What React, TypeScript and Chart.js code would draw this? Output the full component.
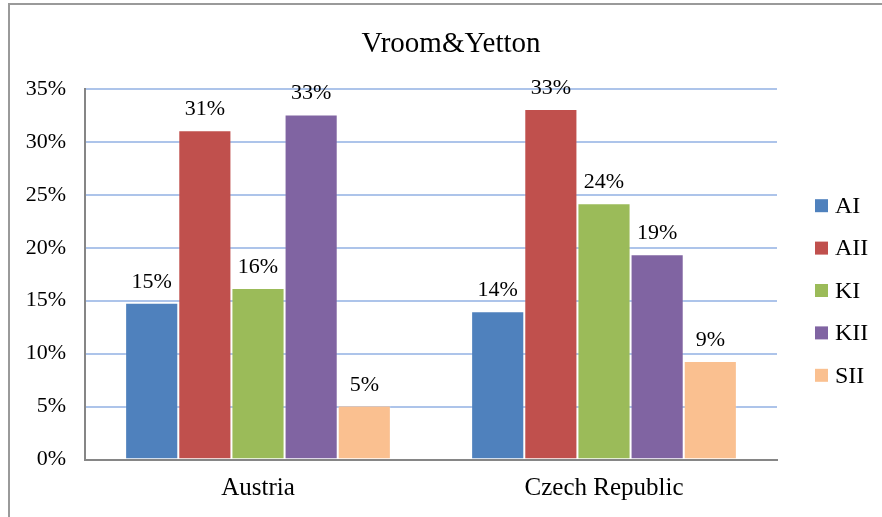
import React, { useEffect, useRef } from 'react';
import { Chart, registerables } from 'chart.js';

Chart.register(...registerables);

const chartTitle = 'Vroom&Yetton';
const categories = ['Austria', 'Czech Republic'];
const seriesNames = ['AI', 'AII', 'KI', 'KII', 'SII'];
const seriesColors = ['#4f81bd', '#c0504d', '#9bbb59', '#8064a2', '#fac090'];
const valuesAI = [14.8, 14.0];
const valuesAII = [31.1, 33.1];
const valuesKI = [16.2, 24.2];
const valuesKII = [32.6, 19.4];
const valuesSII = [5.1, 9.3];
const yTicks = [0, 5, 10, 15, 20, 25, 30, 35];

const seriesValues = [valuesAI, valuesAII, valuesKI, valuesKII, valuesSII];
const FONT = "'Liberation Serif', 'Times New Roman', serif";

const titlePlugin = {
  id: 'customTitle',
  afterDraw(chart: any) {
    const ctx = chart.ctx;
    ctx.save();
    ctx.font = `29px ${FONT}`;
    ctx.fillStyle = '#000';
    ctx.textAlign = 'center';
    ctx.textBaseline = 'alphabetic';
    ctx.fillText(chartTitle, 441, 47);
    ctx.restore();
  },
};

const legendPlugin = {
  id: 'customLegend',
  afterDraw(chart: any) {
    const ctx = chart.ctx;
    ctx.save();
    ctx.font = `24px ${FONT}`;
    ctx.textBaseline = 'middle';
    ctx.textAlign = 'left';
    chart.data.datasets.forEach((ds: any, i: number) => {
      const cy = 200.7 + i * 42.4;
      ctx.fillStyle = ds.backgroundColor;
      ctx.fillRect(805, cy - 6.5, 13, 13);
      ctx.fillStyle = '#000';
      ctx.fillText(ds.label, 825, cy + 1);
    });
    ctx.restore();
  },
};

const dataLabelPlugin = {
  id: 'dataLabels',
  afterDatasetsDraw(chart: any) {
    const ctx = chart.ctx;
    ctx.save();
    ctx.font = `22px ${FONT}`;
    ctx.fillStyle = '#000';
    ctx.textAlign = 'center';
    ctx.textBaseline = 'alphabetic';
    chart.data.datasets.forEach((ds: any, i: number) => {
      const meta = chart.getDatasetMeta(i);
      meta.data.forEach((bar: any, j: number) => {
        const v = ds.data[j];
        ctx.fillText(`${Math.round(v)}%`, bar.x, bar.y - 15);
      });
    });
    ctx.restore();
  },
};

export default function App() {
  const ref = useRef<HTMLCanvasElement | null>(null);

  useEffect(() => {
    if (!ref.current) return;
    const chart = new Chart(ref.current, {
      type: 'bar',
      data: {
        labels: categories,
        datasets: seriesNames.map((name, i) => ({
          label: name,
          data: seriesValues[i],
          backgroundColor: seriesColors[i],
          borderColor: 'rgba(255,255,255,0.15)',
          borderWidth: 1,
          categoryPercentage: 0.768,
          barPercentage: 1,
        })),
      },
      options: {
        responsive: false,
        animation: false,
        layout: { padding: { top: 84, right: 105, left: 0, bottom: 0 } },
        plugins: {
          legend: { display: false },
          title: { display: false },
          tooltip: { enabled: false },
        },
        scales: {
          x: {
            grid: { display: true, color: 'rgba(0,0,0,0)', drawTicks: false },
            border: { display: true, color: '#868686', width: 2 },
            ticks: {
              color: '#000',
              font: { family: FONT, size: 25 },
              padding: 14,
            },
            afterFit(scale: any) {
              scale.height = 57.5;
            },
          },
          y: {
            min: 0,
            max: 35,
            afterBuildTicks(scale: any) {
              scale.ticks = yTicks.map((v) => ({ value: v }));
            },
            grid: {
              color: (c: any) => (c.tick && c.tick.value === 0 ? 'rgba(0,0,0,0)' : '#adc4ea'),
              lineWidth: 2,
              drawTicks: false,
            },
            border: { display: true, color: '#868686', width: 2 },
            ticks: {
              color: '#000',
              font: { family: FONT, size: 22 },
              padding: 19,
              callback: (v: any) => `${v}%`,
            },
            afterFit(scale: any) {
              scale.width = 75;
            },
          },
        },
      },
      plugins: [titlePlugin, legendPlugin, dataLabelPlugin],
    });
    return () => chart.destroy();
  }, []);

  return (
    <div
      style={{
        position: 'absolute',
        left: 8,
        top: 3,
        width: 872,
        height: 512,
        borderLeft: '2px solid #9a9a9a',
        borderTop: '2px solid #9a9a9a',
        overflow: 'hidden',
        background: '#fff',
      }}
    >
      <canvas ref={ref} width={872} height={512} style={{ display: 'block', width: 872, height: 512 }} />
    </div>
  );
}
